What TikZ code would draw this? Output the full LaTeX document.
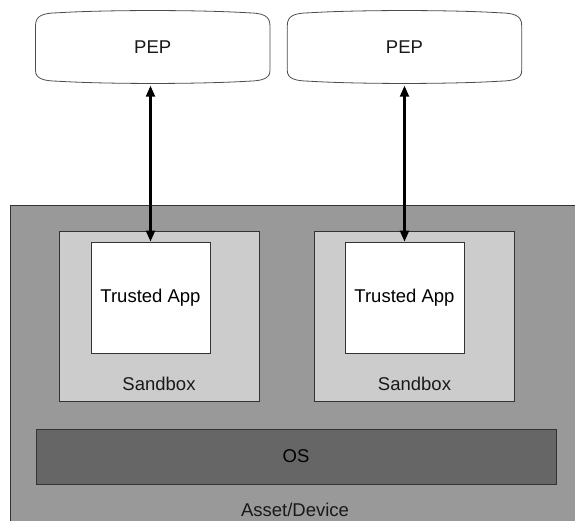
\documentclass[tikz,border=0pt]{standalone}
\usepackage{fontspec}
\setmainfont{Liberation Sans}
\usetikzlibrary{calc,positioning,arrows.meta}

% outline of a policy point: rounded box with slightly swollen top and bottom
\newcommand{\pepoutline}[1]{%
\draw[pepline] ($(#1.north west)+(0,15)$)
    .. controls ($(#1.north west)+(0,5)$) and ($(#1.north west)+(8,2.8)$) .. ($(#1.north west)+(22,2.5)$)
    .. controls ($(#1.north west)+(70,-0.5)$) and ($(#1.north east)+(-70,-0.5)$) .. ($(#1.north east)+(-22,2.5)$)
    .. controls ($(#1.north east)+(-8,2.8)$) and ($(#1.north east)+(0,5)$) .. ($(#1.north east)+(0,15)$)
    -- ($(#1.south east)+(0,-13)$)
    .. controls ($(#1.south east)+(0,-5)$) and ($(#1.south east)+(-8,-2.8)$) .. ($(#1.south east)+(-22,-2.5)$)
    .. controls ($(#1.south east)+(-70,0.5)$) and ($(#1.south west)+(70,0.5)$) .. ($(#1.south west)+(22,-2.5)$)
    .. controls ($(#1.south west)+(8,-2.8)$) and ($(#1.south west)+(0,-5)$) .. ($(#1.south west)+(0,-13)$)
    -- cycle;}

\begin{document}
\begin{tikzpicture}[x=1pt,y=-1pt]

\tikzstyle{box} = [rectangle, draw=black!80, line width=0.8pt, inner sep=0, font=\fontsize{18.5}{22}\selectfont]
\tikzstyle{device} = [box, fill=black!40, minimum width=570pt, minimum height=330pt]
\tikzstyle{sandbox} = [box, fill=black!20, minimum width=200pt, minimum height=170pt]
\tikzstyle{app} = [box, fill=white, minimum width=119pt, minimum height=111pt]
\tikzstyle{os} = [box, fill=black!60, minimum width=520pt, minimum height=55pt]
\tikzstyle{pep} = [rectangle, inner sep=0, minimum width=234pt, minimum height=73pt]
\tikzstyle{pepline} = [draw=black!70, line width=0.8pt, fill=white]
\tikzstyle{lbl} = [inner sep=0, font=\fontsize{18.5}{22}\selectfont, text=black!90]
\tikzstyle{peparc} = [{Triangle[width=9pt,length=11pt]}-{Triangle[width=9pt,length=11pt]}, line width=2.2pt]

\useasboundingbox (0,0) rectangle (575,521);
\clip (0,0) rectangle (575,521);

\node[device] (device) at (295,370) {};
\node[lbl] (devlbl) at (295,510) {Asset/Device};

\node[sandbox] (sbl) at (159,316) {};
\node[sandbox] (sbr) at (414.5,316) {};
\node[lbl] (sbllbl) at ($(sbl.south)+(0,-18)$) {Sandbox};
\node[lbl] (sbrlbl) at ($(sbr.south)+(0,-18)$) {Sandbox};

\node[app] (appl) at (150.5,297.5) {Trusted App};
\node[app] (appr) at (404.5,297.5) {Trusted App};

\node[os] (os) at (296,456.5) {OS};

\node[pep] (pepl) at (152.75,47) {};
\node[pep] (pepr) at (404.5,47) {};
\pepoutline{pepl}
\pepoutline{pepr}
\node[lbl] at (pepl) {PEP};
\node[lbl] at (pepr) {PEP};

\draw[peparc] (appl.north) -- ($(appl.north |- pepl.south)+(0,2)$);
\draw[peparc] (appr.north) -- ($(appr.north |- pepr.south)+(0,2)$);

\end{tikzpicture}
\end{document}
